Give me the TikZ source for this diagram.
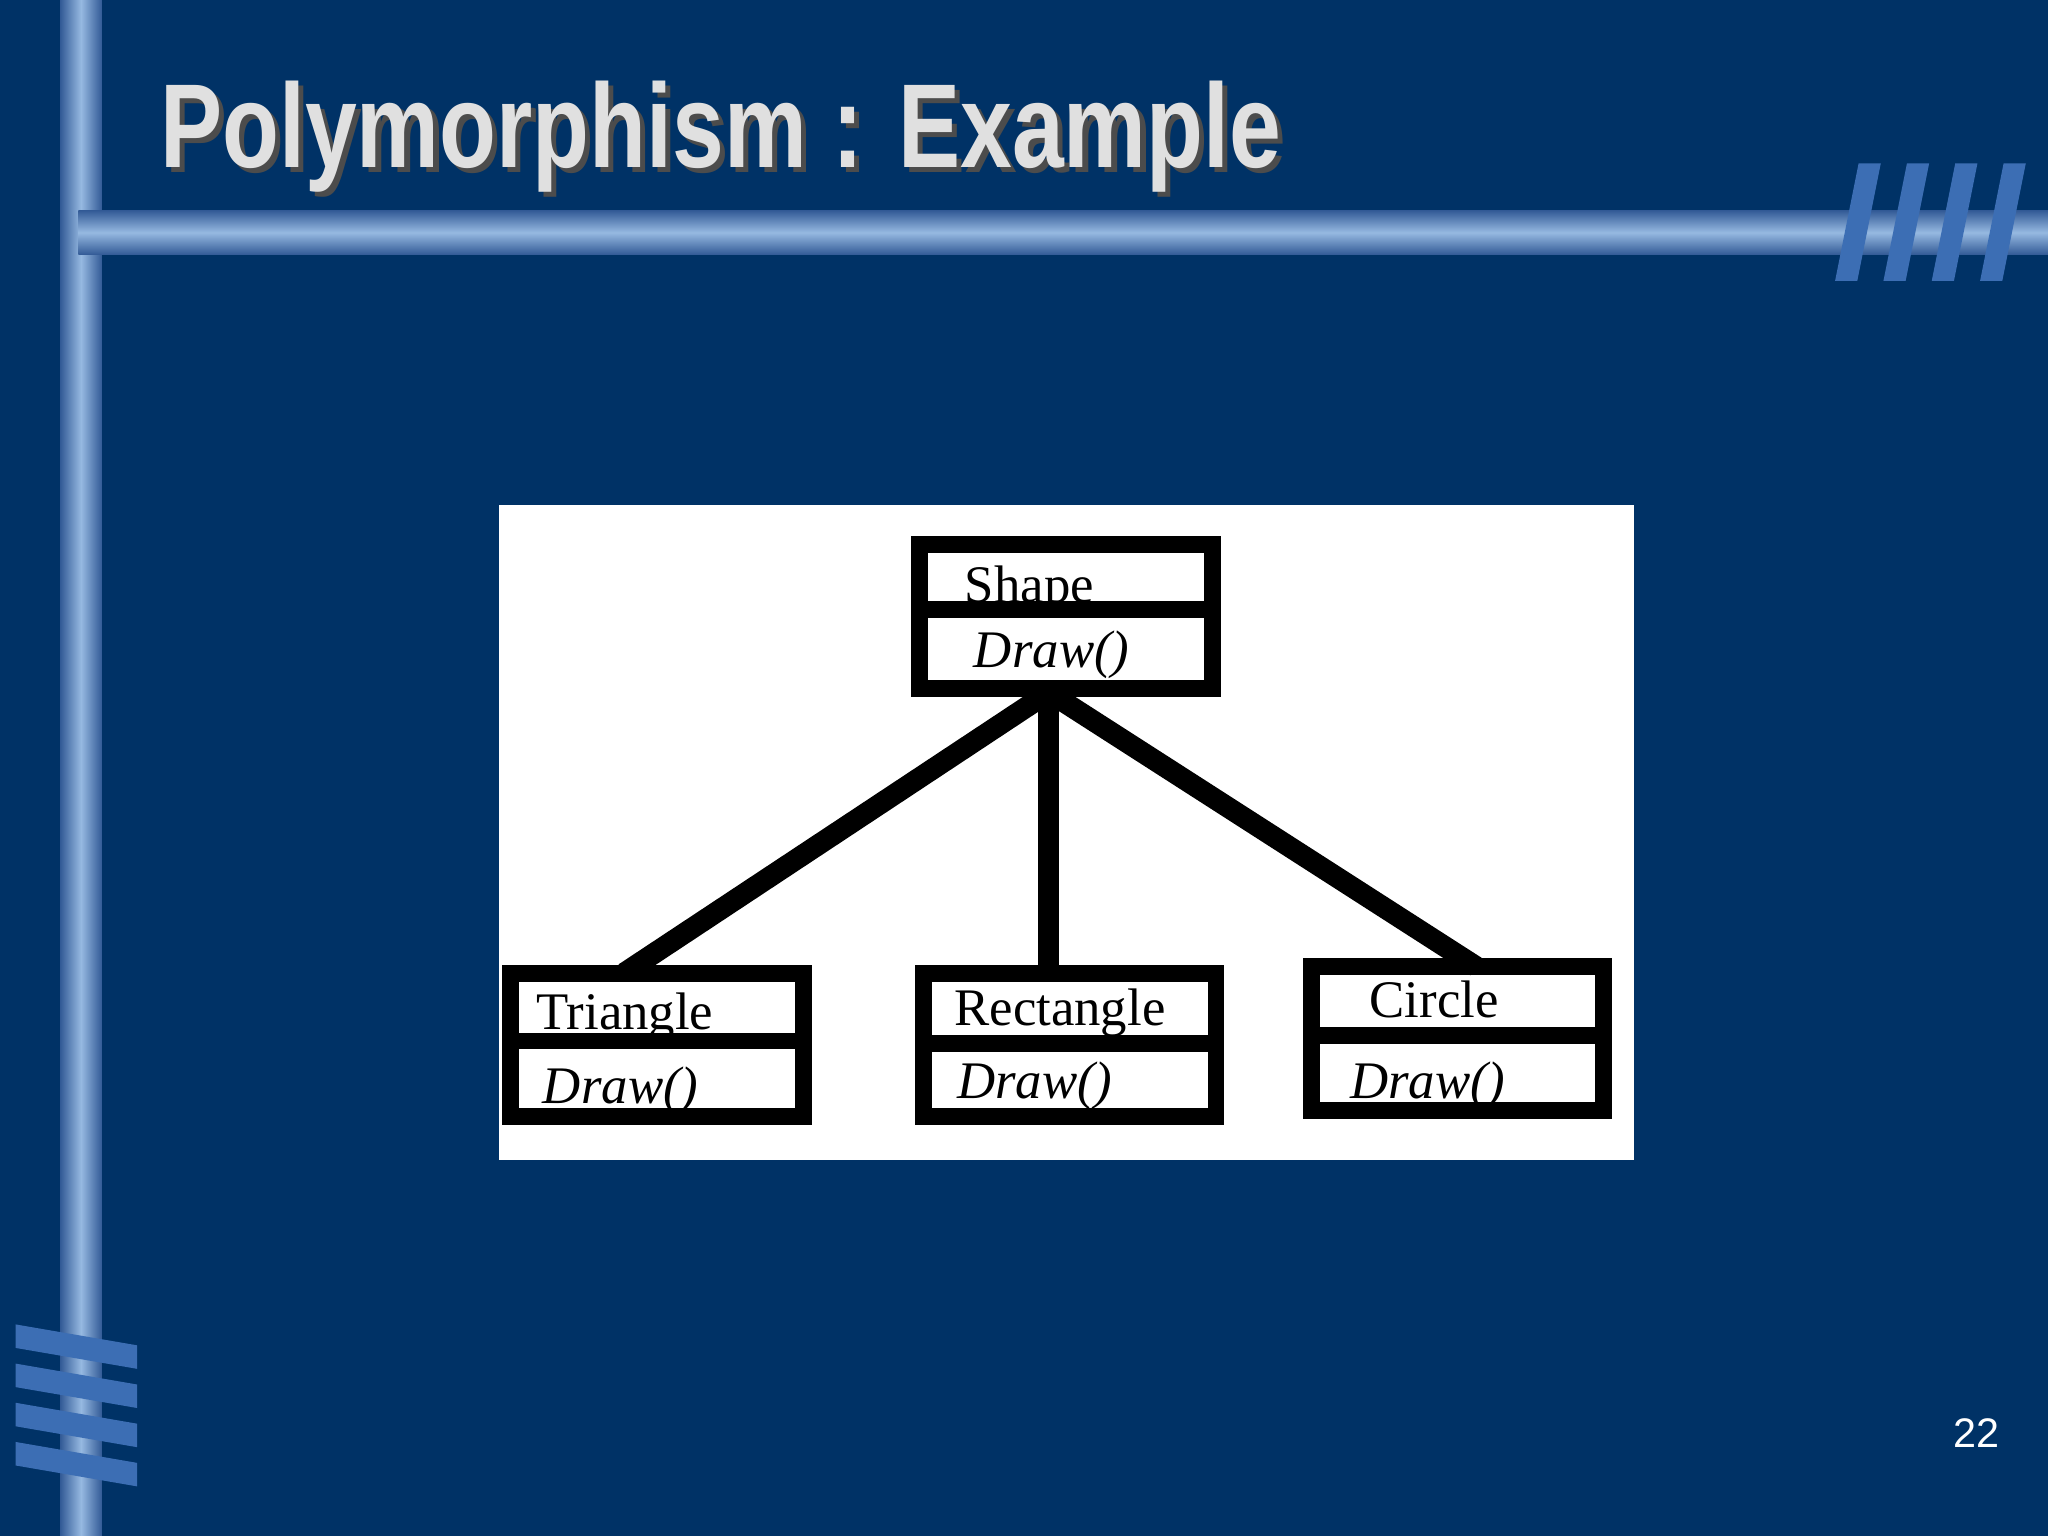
\documentclass[tikz,border=0pt]{standalone}
\usepackage{fontspec}
\setmainfont{Liberation Serif}
\newfontfamily\sansf{Liberation Sans}
\begin{document}
\begin{tikzpicture}[x=0.1mm,y=-0.1mm,
  cls/.style={draw=black,line width=1.3mm,inner sep=0pt},
  lnk/.style={draw=black,line width=1.6mm}]
\definecolor{bg}{RGB}{0,50,102}
\definecolor{barl}{RGB}{150,185,225}
\definecolor{bard}{RGB}{50,90,150}
\definecolor{stripe}{RGB}{60,110,180}
\useasboundingbox (0,0) rectangle (1568,1176);
\fill[bg] (0,0) rectangle (1568,1176);
% bars
\shade[left color=bard,right color=bard,middle color=barl] (46,0) rectangle (78,1176);
\shade[top color=bard,bottom color=bard,middle color=barl] (60,161) rectangle (1568,195);
% logos
\foreach \i in {0,1,2,3}{
  \fill[stripe] ({1423+\i*37},125) -- ({1440+\i*37},125) -- ({1422+\i*37},215) -- ({1405+\i*37},215) -- cycle;
  \fill[stripe] (12,{1014+\i*30}) -- (105,{1030+\i*30}) -- (105,{1048+\i*30}) -- (12,{1032+\i*30}) -- cycle;
}
% title
\node[anchor=base west,text=black!70,inner sep=0pt] at (126,132) {\sansf\bfseries\fontsize{26}{30}\selectfont\scalebox{0.78}[1]{Polymorphism : Example}};
\node[anchor=base west,text=white!88!black,inner sep=0pt] at (122,128) {\sansf\bfseries\fontsize{26}{30}\selectfont\scalebox{0.78}[1]{Polymorphism : Example}};
\node[anchor=base,text=white,inner sep=0pt] at (1513,1108) {\sansf\fontsize{9}{10}\selectfont 22};
% white panel
\fill[white] (382,387) rectangle (1251,888);
% boxes
\newcommand\umlbox[7]{% name x1 y1 x2 y2 ydiv title
  \draw[cls] (#2,#3) rectangle (#4,#5);
  \draw[cls] (#2,#6) -- (#4,#6);
  \coordinate (#1top) at ({(#2+#4)/2},#3);
  \coordinate (#1bot) at ({(#2+#4)/2},#5);
}
\umlbox{s}{704}{417}{928}{527}{467}{}
\umlbox{t}{391}{745}{615}{855}{797}{}
\umlbox{r}{707}{745}{931}{855}{799}{}
\umlbox{c}{1004}{740}{1228}{850}{793}{}
\node[anchor=base west,inner sep=0] (sn) at (738,461) {\fontsize{11.5}{12}\selectfont Shape};
\node[anchor=base west,inner sep=0] (sd) at (745,511) {\fontsize{11.5}{12}\selectfont\itshape Draw()};
\node[anchor=base west,inner sep=0] (tn) at (410,788) {\fontsize{11.5}{12}\selectfont Triangle};
\node[anchor=base west,inner sep=0] (td) at (415,845) {\fontsize{11.5}{12}\selectfont\itshape Draw()};
\node[anchor=base west,inner sep=0] (rn) at (730,785) {\fontsize{11.5}{12}\selectfont Rectangle};
\node[anchor=base west,inner sep=0] (rd) at (732,841) {\fontsize{11.5}{12}\selectfont\itshape Draw()};
\node[anchor=base west,inner sep=0] (cn) at (1048,779) {\fontsize{11.5}{12}\selectfont Circle};
\node[anchor=base west,inner sep=0] (cd) at (1033,841) {\fontsize{11.5}{12}\selectfont\itshape Draw()};
\coordinate (hub) at (803,530);
\coordinate (ta) at (478,745);
\coordinate (ra) at (803,745);
\coordinate (ca) at (1130,740);
\draw[lnk] (hub) -- (ta);
\draw[lnk] (hub) -- (ra);
\draw[lnk] (hub) -- (ca);
\end{tikzpicture}
\end{document}
